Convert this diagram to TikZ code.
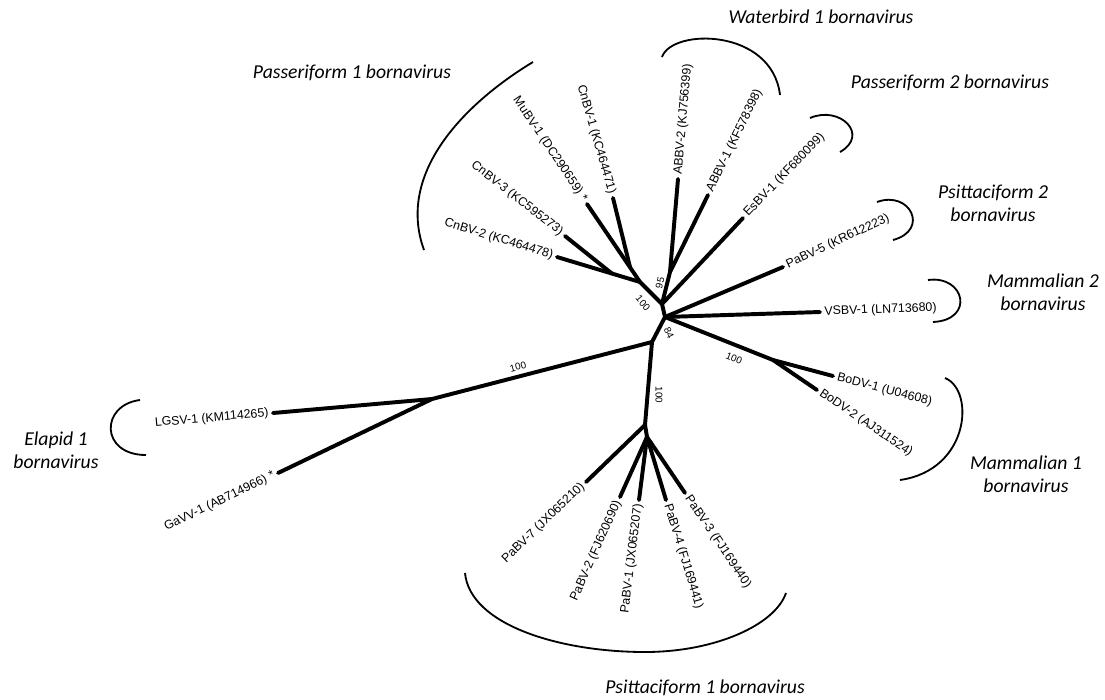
\documentclass[tikz,border=0pt]{standalone}
\usepackage{fontspec}
\setmainfont{Liberation Sans}
\newfontfamily\califont{Carlito}
\usetikzlibrary{positioning}

\begin{document}
\begin{tikzpicture} [x=0.025cm, y=-0.025cm,
        branch/.style={line width=2.8pt, line cap=round},
        bracket/.style={line width=1.3pt},
        leaf/.style={font=\fontsize{8.8}{10}\selectfont, inner sep=3pt},
        boot/.style={font=\fontsize{7}{8}\selectfont, inner sep=1pt},
        clade/.style={font=\califont\itshape\fontsize{14}{16.5}\selectfont, align=center}]
        \useasboundingbox (0,0) rectangle (1105,699);

        % inner nodes of the tree
        \coordinate (p1) at (640,282);
        \coordinate (p1a) at (612,273.6);
        \coordinate (p1b) at (630,267);
        \coordinate (w1) at (670,272);
        \coordinate (nA) at (662,304);
        \coordinate (nB) at (665,317);
        \coordinate (nBo) at (773,360);
        \coordinate (nC) at (652,342);
        \coordinate (nE) at (432,399);
        \coordinate (nD) at (645,425);
        \coordinate (nD2) at (647,437);

        % leaves
        \node (cnbv2) [leaf, anchor=east, rotate=-17] at (557,257) {CnBV-2 (KC464478)};
        \node (cnbv3) [leaf, anchor=east, rotate=-38] at (565,236) {CnBV-3 (KC595273)};
        \node (mubv1) [leaf, anchor=east, rotate=-56] at (587,204) {MuBV-1 (DC290659) *};
        \node (cnbv1) [leaf, anchor=east, rotate=-74] at (613,198) {CnBV-1 (KC464471)};
        \node (abbv2) [leaf, anchor=west, rotate=85] at (678,179) {ABBV-2 (KJ756399)};
        \node (abbv1) [leaf, anchor=west, rotate=64] at (708,195) {ABBV-1 (KF578398)};
        \node (esbv1) [leaf, anchor=west, rotate=46] at (743,218) {EsBV-1 (KF680099)};
        \node (pabv5) [leaf, anchor=west, rotate=25] at (783,267) {PaBV-5 (KR612223)};
        \node (vsbv1) [leaf, anchor=west, rotate=2] at (820,312) {VSBV-1 (LN713680)};
        \node (bodv1) [leaf, anchor=west, rotate=-15] at (833,376) {BoDV-1 (U04608)};
        \node (bodv2) [leaf, anchor=west, rotate=-34] at (817,390) {BoDV-2 (AJ311524)};
        \node (lgsv1) [leaf, anchor=east, rotate=5] at (273,413) {LGSV-1 (KM114265)};
        \node (gavv1) [leaf, anchor=east, rotate=26] at (278,473) {GaVV-1 (AB714966) *};
        \node (pabv7) [leaf, anchor=east, rotate=44] at (586,482) {PaBV-7 (JX065210)};
        \node (pabv2) [leaf, anchor=east, rotate=66] at (620,497) {PaBV-2 (FJ620690)};
        \node (pabv1) [leaf, anchor=east, rotate=83] at (639,500) {PaBV-1 (JX065207)};
        \node (pabv4) [leaf, anchor=west, rotate=-73] at (666,500) {PaBV-4 (FJ169441)};
        \node (pabv3) [leaf, anchor=west, rotate=-56] at (685,493) {PaBV-3 (FJ169440)};

        % branches
        \draw [branch] (cnbv2.east) -- (p1);
        \draw [branch] (cnbv3.east) -- (p1a);
        \draw [branch] (mubv1.east) -- (p1);
        \draw [branch] (cnbv1.east) -- (p1b);
        \draw [branch] (p1) -- (nA);
        \draw [branch] (abbv2.west) -- (w1);
        \draw [branch] (abbv1.west) -- (w1);
        \draw [branch] (w1) -- (nA);
        \draw [branch] (esbv1.west) -- (nA);
        \draw [branch] (nA) -- (nB);
        \draw [branch] (nB) -- (pabv5.west);
        \draw [branch] (nB) -- (vsbv1.west);
        \draw [branch] (nB) -- (nBo);
        \draw [branch] (nBo) -- (bodv1.west);
        \draw [branch] (nBo) -- (bodv2.west);
        \draw [branch] (nB) -- (nC);
        \draw [branch] (nC) -- (nE);
        \draw [branch] (nE) -- (lgsv1.east);
        \draw [branch] (nE) -- (gavv1.east);
        \draw [branch] (nC) -- (nD);
        \draw [branch] (nD) -- (pabv7.east);
        \draw [branch] (nD) -- (nD2);
        \draw [branch] (nD2) -- (pabv2.east);
        \draw [branch] (nD2) -- (pabv1.east);
        \draw [branch] (nD2) -- (pabv4.west);
        \draw [branch] (nD2) -- (pabv3.west);

        % bootstrap values
        \node (bs1) [boot, rotate=-50] at (643,303) {100};
        \node (bs2) [boot, rotate=76] at (660,283) {95};
        \node (bs3) [boot, rotate=-64] at (669,333) {84};
        \node (bs4) [boot, rotate=15] at (518,367) {100};
        \node (bs5) [boot, rotate=-22] at (734,358) {100};
        \node (bs6) [boot, rotate=-90] at (659,395) {100};

        % clade brackets
        \draw [bracket] (533,62) .. controls (470,100) and (395,170) .. (424,250);
        \draw [bracket] (662,57) .. controls (672,28) and (772,28) .. (780,95);
        \draw [bracket] (810,118) .. controls (840,105) and (870,135) .. (840,152);
        \draw [bracket] (877,202) .. controls (910,190) and (930,230) .. (893,240);
        \draw [bracket] (928,280) .. controls (965,275) and (975,320) .. (933,322);
        \draw [bracket] (945,378) .. controls (975,390) and (970,470) .. (900,480);
        \draw [bracket] (140,400) .. controls (100,405) and (100,455) .. (146,455);
        \draw [bracket] (465,573) .. controls (470,625) and (560,652) .. (645,652)
                .. controls (715,652) and (775,625) .. (786,593);

        % clade names
        \node (pass1) [clade] at (352,73) {Passeriform 1 bornavirus};
        \node (water1) [clade] at (821,17) {Waterbird 1 bornavirus};
        \node (pass2) [clade] at (950,83) {Passeriform 2 bornavirus};
        \node (psit2) [clade] at (993,203) {Psittaciform 2\\bornavirus};
        \node (mamm2) [clade] at (1043,292) {Mammalian 2\\bornavirus};
        \node (mamm1) [clade] at (1026,474) {Mammalian 1\\bornavirus};
        \node (elap1) [clade] at (56,450) {Elapid 1\\bornavirus};
        \node (psit1) [clade] at (705,688) {Psittaciform 1 bornavirus};

    \end{tikzpicture}
\end{document}
